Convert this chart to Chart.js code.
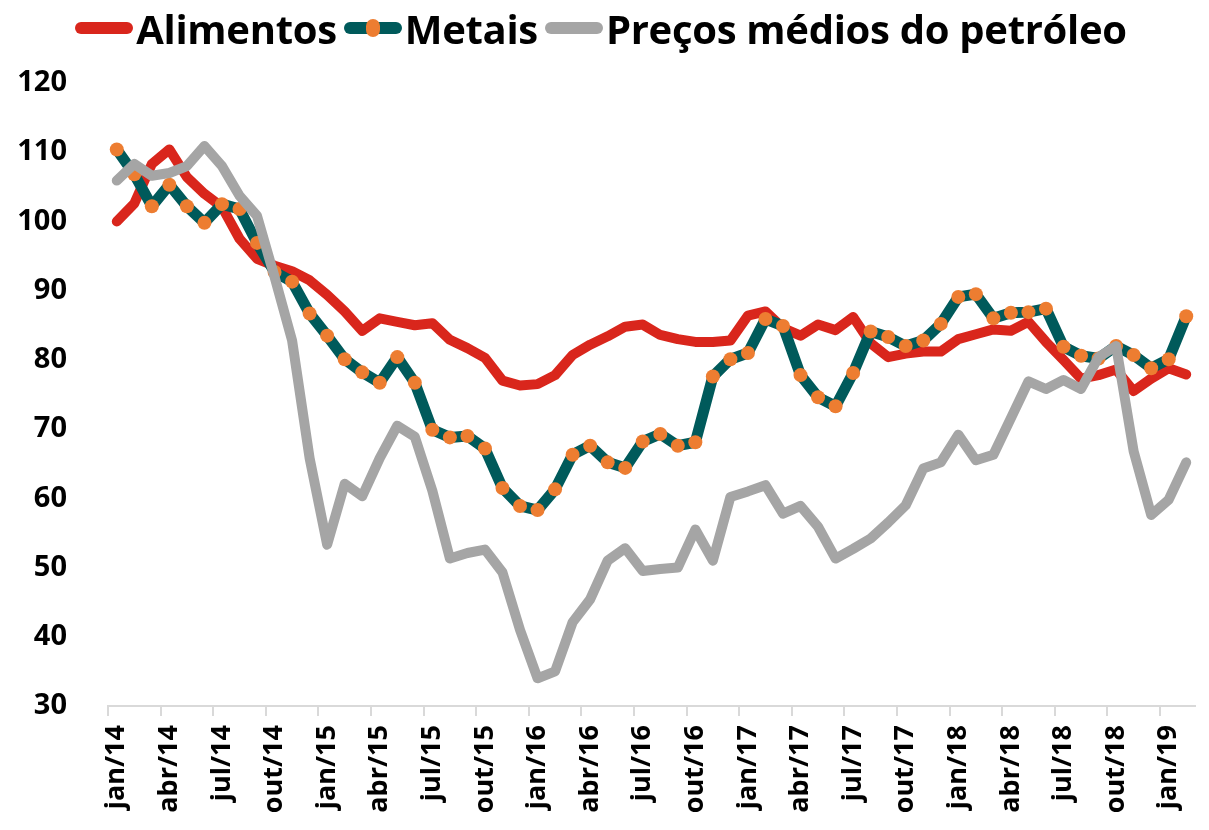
<!DOCTYPE html>
<html>
<head>
<meta charset="utf-8">
<script src="https://cdn.jsdelivr.net/npm/chart.js@4.4.1/dist/chart.umd.min.js"></script>
<style>
  html, body { margin: 0; padding: 0; background: #fff; }
  #wrap { position: relative; width: 1209px; height: 830px; }
  #legend {
    position: absolute; top: 0; left: 0; width: 1209px; height: 56px;
    display: flex; justify-content: center; align-items: center;
    font-family: "Open Sans", sans-serif; font-weight: 700; font-size: 40px; color: #000;
    letter-spacing: -0.3px;
  }
  .item { display: flex; align-items: center; margin-right: 7px; }
  .mark { width: 58px; height: 12px; border-radius: 6px; position: relative; margin-right: 3px; }
  .dot { position: absolute; left: 22px; top: -3px; width: 14px; height: 18px; border-radius: 7px; background: #ED7D31; }
</style>
</head>
<body>
<div id="wrap">
  <canvas id="chart" width="1209" height="830"></canvas>
  <div id="legend"></div>
</div>
<script>
// --- data ---
const months = [
  'jan/14','fev/14','mar/14','abr/14','mai/14','jun/14','jul/14','ago/14','set/14','out/14','nov/14','dez/14',
  'jan/15','fev/15','mar/15','abr/15','mai/15','jun/15','jul/15','ago/15','set/15','out/15','nov/15','dez/15',
  'jan/16','fev/16','mar/16','abr/16','mai/16','jun/16','jul/16','ago/16','set/16','out/16','nov/16','dez/16',
  'jan/17','fev/17','mar/17','abr/17','mai/17','jun/17','jul/17','ago/17','set/17','out/17','nov/17','dez/17',
  'jan/18','fev/18','mar/18','abr/18','mai/18','jun/18','jul/18','ago/18','set/18','out/18','nov/18','dez/18',
  'jan/19','fev/19'
];

const alimentos = [
  100.0, 102.6, 108.3, 110.4, 106.4, 104.0, 102.1, 97.5, 94.6, 93.6, 92.8, 91.5,
  89.4, 87.0, 84.2, 86.0, 85.5, 85.0, 85.3, 82.9, 81.7, 80.3, 77.0, 76.3,
  76.5, 77.8, 80.7, 82.2, 83.4, 84.8, 85.1, 83.6, 83.0, 82.6, 82.6, 82.8,
  86.4, 87.0, 84.6, 83.5, 85.1, 84.3, 86.2, 82.4, 80.4, 80.9, 81.2, 81.2,
  83.0, 83.7, 84.4, 84.2, 85.5, 82.6, 80.0, 77.3, 77.8, 78.6, 75.5, 77.3,
  78.8, 77.9
];

const metais = [
  110.4, 106.8, 102.2, 105.3, 102.2, 99.8, 102.5, 101.8, 96.9, 92.7, 91.3, 86.7,
  83.5, 80.1, 78.2, 76.7, 80.4, 76.7, 69.9, 68.8, 69.0, 67.2, 61.5, 58.9,
  58.3, 61.3, 66.3, 67.6, 65.2, 64.4, 68.2, 69.3, 67.6, 68.1, 77.6, 80.1,
  81.0, 85.9, 84.9, 77.8, 74.6, 73.3, 78.1, 84.1, 83.3, 82.0, 82.8, 85.2,
  89.1, 89.5, 86.0, 86.8, 86.9, 87.4, 81.9, 80.6, 80.2, 82.0, 80.7, 78.8,
  80.1, 86.3
];

const petroleo = [
  105.9, 108.3, 106.6, 107.0, 108.0, 110.9, 108.0, 103.7, 100.8, 92.0, 82.8, 65.8,
  53.3, 62.1, 60.3, 65.8, 70.5, 68.9, 61.1, 51.3, 52.1, 52.6, 49.3, 41.0,
  34.0, 35.0, 42.1, 45.4, 51.0, 52.8, 49.5, 49.8, 50.0, 55.5, 51.0, 60.2,
  61.0, 61.9, 57.8, 58.9, 55.9, 51.3, 52.7, 54.2, 56.5, 59.0, 64.3, 65.2,
  69.2, 65.5, 66.3, 71.6, 76.9, 75.8, 77.1, 75.8, 80.4, 82.0, 66.8, 57.6,
  59.8, 65.2
];

const seriesNames = ['Alimentos', 'Metais', 'Preços médios do petróleo'];
const seriesColors = ['#D9261C', '#005A5B', '#A5A5A5'];
const yTicks = { min: 30, max: 120, step: 10 };

// --- html legend (line sample, Metais gets the orange dot) ---
const legend = document.getElementById('legend');
seriesNames.forEach(function(name, i) {
  const item = document.createElement('div');
  item.className = 'item';
  const mark = document.createElement('span');
  mark.className = 'mark';
  mark.style.background = seriesColors[i];
  if (i === 1) {
    const dot = document.createElement('span');
    dot.className = 'dot';
    mark.appendChild(dot);
  }
  const txt = document.createElement('span');
  txt.textContent = name;
  item.appendChild(mark);
  item.appendChild(txt);
  legend.appendChild(item);
});

const tickFont = { family: 'Open Sans', weight: 'bold' };

new Chart(document.getElementById('chart'), {
  type: 'line',
  data: {
    labels: months,
    datasets: [
      { label: seriesNames[0], data: alimentos, borderColor: seriesColors[0], borderWidth: 10,
        pointRadius: 0, order: 3 },
      { label: seriesNames[1], data: metais, borderColor: seriesColors[1], borderWidth: 11,
        pointRadius: 7, pointBackgroundColor: '#ED7D31', pointBorderWidth: 0, order: 2 },
      { label: seriesNames[2], data: petroleo, borderColor: seriesColors[2], borderWidth: 10,
        pointRadius: 0, order: 1 }
    ]
  },
  options: {
    responsive: false,
    animation: false,
    layout: { padding: { top: 83, right: 14, left: 0, bottom: 0 } },
    elements: { line: { tension: 0, borderJoinStyle: 'round', borderCapStyle: 'round' } },
    plugins: { legend: { display: false }, tooltip: { enabled: false } },
    scales: {
      x: {
        offset: true,
        grid: {
          offset: true,
          drawOnChartArea: false,
          tickLength: 10,
          lineWidth: 2,
          color: c => (c.index % 3 === 0 ? '#D9D9D9' : 'rgba(0,0,0,0)')
        },
        border: { color: '#D9D9D9', width: 2 },
        ticks: {
          autoSkip: false,
          maxRotation: 90,
          minRotation: 90,
          padding: 9,
          color: '#000',
          font: Object.assign({ size: 27 }, tickFont),
          callback: (v, i) => (i % 3 === 0 ? months[i] : '')
        },
        afterFit: s => { s.height = 124; s.paddingLeft = 0; s.paddingRight = 0; }
      },
      y: {
        min: yTicks.min,
        max: yTicks.max,
        grid: { display: false },
        border: { display: false },
        ticks: {
          stepSize: yTicks.step,
          padding: 33,
          color: '#000',
          font: Object.assign({ size: 29 }, tickFont)
        },
        afterFit: s => { s.width = 108; }
      }
    }
  }
});
</script>
</body>
</html>
